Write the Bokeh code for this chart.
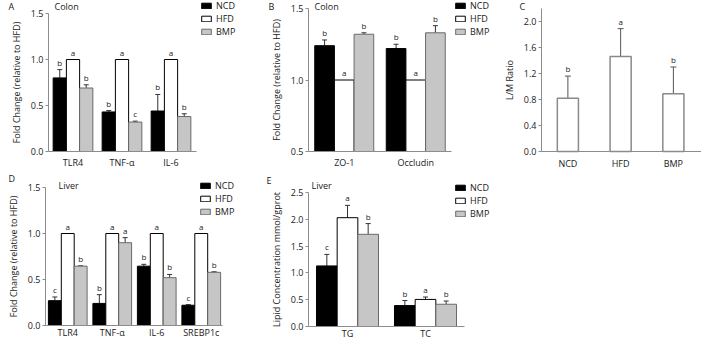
from bokeh.plotting import figure
from bokeh.models import (Range1d, Whisker, ColumnDataSource, Label, Legend,
                          LegendItem, TeeHead, FixedTicker, PrintfTickFormatter)
from bokeh.transform import dodge
from bokeh.layouts import row, column
from bokeh.core.properties import value
from bokeh.embed import file_html
from bokeh.resources import INLINE

FONT = "Open Sans"
GROUPS = ["NCD", "HFD", "BMP"]

# ---- Panel A: Colon, fold change ----
a_cats = ["TLR4", "TNF-α", "IL-6"]
a_ncd = [0.80, 0.43, 0.44]
a_ncd_err = [0.09, 0.015, 0.18]
a_hfd = [1.0, 1.0, 1.0]
a_hfd_err = [0.0, 0.0, 0.0]
a_bmp = [0.69, 0.32, 0.38]
a_bmp_err = [0.035, 0.01, 0.03]
a_let_ncd = ["b", "b", "b"]
a_let_hfd = ["a", "a", "a"]
a_let_bmp = ["b", "c", "b"]
a_ticks = [0.0, 0.5, 1.0, 1.5]

# ---- Panel B: Colon, tight junctions ----
b_cats = ["ZO-1", "Occludin"]
b_ncd = [1.24, 1.22]
b_ncd_err = [0.04, 0.03]
b_hfd = [1.0, 1.0]
b_hfd_err = [0.0, 0.0]
b_bmp = [1.32, 1.33]
b_bmp_err = [0.01, 0.05]
b_let_ncd = ["b", "b"]
b_let_hfd = ["a", "a"]
b_let_bmp = ["b", "b"]
b_ticks = [0.5, 1.0, 1.5]

# ---- Panel C: L/M ratio ----
c_cats = ["NCD", "HFD", "BMP"]
c_vals = [0.82, 1.46, 0.89]
c_err = [0.34, 0.43, 0.41]
c_let = ["b", "a", "b"]
c_ticks = [0.0, 0.4, 0.8, 1.2, 1.6, 2.0]

# ---- Panel D: Liver, fold change ----
d_cats = ["TLR4", "TNF-α", "IL-6", "SREBP1c"]
d_ncd = [0.27, 0.24, 0.645, 0.22]
d_ncd_err = [0.04, 0.095, 0.02, 0.007]
d_hfd = [1.0, 1.0, 1.0, 1.0]
d_hfd_err = [0.0, 0.0, 0.0, 0.0]
d_bmp = [0.645, 0.90, 0.52, 0.578]
d_bmp_err = [0.004, 0.055, 0.035, 0.006]
d_let_ncd = ["c", "b", "b", "c"]
d_let_hfd = ["a", "a", "a", "a"]
d_let_bmp = ["b", "a", "b", "b"]
d_ticks = [0.0, 0.5, 1.0, 1.5]

# ---- Panel E: Liver lipids ----
e_cats = ["TG", "TC"]
e_ncd = [1.13, 0.39]
e_ncd_err = [0.215, 0.095]
e_hfd = [2.03, 0.505]
e_hfd_err = [0.23, 0.045]
e_bmp = [1.72, 0.415]
e_bmp_err = [0.20, 0.06]
e_let_ncd = ["c", "b"]
e_let_hfd = ["a", "a"]
e_let_bmp = ["b", "b"]
e_ticks = [0.0, 0.5, 1.0, 1.5, 2.0, 2.5]

BLACK = "#000000"
GRAY = "#c6c6c6"
GRAY_LINE = "#6a6a6a"
AXC = "#8c8c8c"
TXT = "#1a1a1a"
ERR = "#333333"


def make_fig(W, H, L, axis_end, U, T, B, ymin, ytop, ticks, cats, ylabel,
             xstand=3, ylab_stand=5):
    """Frame fills the whole figure; axes are placed with fixed_location/bounds."""
    k = (ytop - ymin) / (B - T)
    xr = Range1d(-0.5 - L / U, -0.5 + (W - L) / U)
    yr = Range1d(ymin - (H - B) * k, ytop + T * k)
    p = figure(width=W, height=H, x_range=xr, y_range=yr,
               output_backend="svg", toolbar_location=None,
               min_border=0, min_border_left=0, min_border_right=0,
               min_border_top=0, min_border_bottom=0)
    p.title.visible = False
    p.outline_line_color = None
    p.xgrid.visible = False
    p.ygrid.visible = False
    p.background_fill_color = "white"
    p.border_fill_color = "white"
    for ax in (p.xaxis, p.yaxis):
        ax.axis_line_color = AXC
        ax.major_label_text_font = FONT
        ax.major_label_text_font_size = "9px"
        ax.major_label_text_color = TXT
        ax.minor_tick_line_color = None
        ax.minor_tick_in = 0
        ax.minor_tick_out = 0
        ax.axis_label_text_font = FONT
        ax.axis_label_text_font_size = "9px"
        ax.axis_label_text_font_style = "normal"
        ax.axis_label_text_color = TXT
    xax = p.xaxis[0]
    yax = p.yaxis[0]
    xax.fixed_location = ymin
    xax.bounds = (-0.5, -0.5 + (axis_end - L) / U)
    xax.ticker = FixedTicker(ticks=list(range(len(cats))))
    xax.major_label_overrides = {i: c for i, c in enumerate(cats)}
    xax.major_tick_line_color = None
    xax.major_tick_in = 0
    xax.major_tick_out = 0
    xax.major_label_standoff = xstand
    yax.fixed_location = -0.5
    yax.bounds = (ymin, ytop)
    yax.ticker = FixedTicker(ticks=ticks)
    yax.formatter = PrintfTickFormatter(format="%.1f")
    yax.major_tick_in = 0
    yax.major_tick_out = 3
    yax.major_tick_line_color = AXC
    yax.major_label_standoff = 2
    yax.axis_label = ylabel
    yax.axis_label_standoff = ylab_stand
    return p


def add_label(p, x, ytop, text, size="9px"):
    p.add_layout(Label(x=x, y=p.height - ytop, x_units="screen", y_units="screen",
                       text=text, text_font=FONT, text_font_size=size,
                       text_color=TXT, text_baseline="middle", text_align="left"))


def add_bars(p, cats, ymin, series, bw, lower_for=(), letter_size="8px"):
    offs = [-bw, 0.0, bw]
    rends = []
    for i, (vals, errs, lets, fill, line) in enumerate(series):
        src = ColumnDataSource(dict(
            xi=list(range(len(cats))), v=vals,
            up=[v + e for v, e in zip(vals, errs)],
            lo=[v - e if i in lower_for else v for v, e in zip(vals, errs)],
            let=lets))
        xs = dodge("xi", offs[i])
        r = p.vbar(x=xs, top="v", bottom=ymin, width=bw, source=src,
                   fill_color=fill, line_color=line, line_width=1)
        rends.append(r)
        if any(e > 0 for e in errs):
            p.add_layout(Whisker(source=src, base=xs, upper="up", lower="lo",
                                 line_color=ERR, line_width=1,
                                 upper_head=TeeHead(size=5, line_color=ERR, line_width=1),
                                 lower_head=(TeeHead(size=5, line_color=ERR, line_width=1)
                                             if i in lower_for else None)))
        p.text(x=xs, y="up", text="let", source=src, text_font=value(FONT),
               text_font_size=letter_size, text_color=TXT, text_align="center",
               text_baseline="bottom", y_offset=-2)
    return rends


def add_legend(p, rends, x, bottom):
    # location = bottom-left corner of the legend, measured from the frame bottom
    lg = Legend(items=[LegendItem(label=g, renderers=[r]) for g, r in zip(GROUPS, rends)],
                location=(x, p.height - bottom), orientation="vertical",
                glyph_width=12, glyph_height=7, label_height=11,
                label_text_font=FONT, label_text_font_size="9px", label_text_color=TXT,
                label_standoff=4, padding=0, margin=0, spacing=-1,
                border_line_color=None, background_fill_alpha=0)
    p.add_layout(lg)


# ---------- A ----------
pA = make_fig(242, 170, 48, 196, 49, 13, 151, 0, 1.5, a_ticks, a_cats,
              "Fold Change (relative to HFD)", xstand=4)
rA = add_bars(pA, a_cats, 0, [
    (a_ncd, a_ncd_err, a_let_ncd, BLACK, BLACK),
    (a_hfd, a_hfd_err, a_let_hfd, "white", BLACK),
    (a_bmp, a_bmp_err, a_let_bmp, GRAY, GRAY_LINE)], 0.27)
add_legend(pA, rA, 200, 37.5)
add_label(pA, 8, 6, "A")
add_label(pA, 54, 6, "Colon")

# ---------- B ----------
pB = make_fig(254, 170, 66, 209, 71.5, 8, 151, 0.5, 1.5, b_ticks, b_cats,
              "Fold Change (relative to HFD)", xstand=4)
rB = add_bars(pB, b_cats, 0.5, [
    (b_ncd, b_ncd_err, b_let_ncd, BLACK, BLACK),
    (b_hfd, b_hfd_err, b_let_hfd, "white", BLACK),
    (b_bmp, b_bmp_err, b_let_bmp, GRAY, GRAY_LINE)], 0.275)
add_legend(pB, rB, 212, 37.5)
add_label(pB, 26, 6, "B")
add_label(pB, 72, 6, "Colon")

# ---------- C ----------
pC = make_fig(205, 170, 45, 205, 52.75, 8, 151, 0, 2.2, c_ticks, c_cats, "L/M Ratio",
              xstand=5)
srcC = ColumnDataSource(dict(xi=list(range(len(c_cats))), v=c_vals,
                             up=[v + e for v, e in zip(c_vals, c_err)],
                             lo=[v - e for v, e in zip(c_vals, c_err)], let=c_let))
pC.vbar(x="xi", top="v", bottom=0, width=0.4, source=srcC, fill_color="white",
        line_color="#8a8a8a", line_width=1.5)
pC.add_layout(Whisker(source=srcC, base="xi", upper="up", lower="lo",
                      line_color="#555555", line_width=1,
                      upper_head=TeeHead(size=6, line_color="#555555", line_width=1),
                      lower_head=TeeHead(size=6, line_color="#555555", line_width=1)))
pC.text(x="xi", y="up", text="let", source=srcC, text_font=value(FONT),
        text_font_size="8px", text_color=TXT, text_align="center",
        text_baseline="bottom", y_offset=-2)
add_label(pC, 23, 6, "C")

# ---------- D ----------
pD = make_fig(258, 170, 45, 222, 44.5, 17, 155, 0, 1.5, d_ticks, d_cats,
              "Fold Change (relative to HFD)", xstand=0)
rD = add_bars(pD, d_cats, 0, [
    (d_ncd, d_ncd_err, d_let_ncd, BLACK, BLACK),
    (d_hfd, d_hfd_err, d_let_hfd, "white", BLACK),
    (d_bmp, d_bmp_err, d_let_bmp, GRAY, GRAY_LINE)], 0.29)
add_legend(pD, rD, 199, 48)
add_label(pD, 8, 8, "D")
add_label(pD, 58, 15, "Liver")

# ---------- E ----------
pE = make_fig(443, 170, 50, 206, 78, 22, 156, 0, 2.5, e_ticks, e_cats,
              "Lipid Concentration mmol/gprot", xstand=0)
rE = add_bars(pE, e_cats, 0, [
    (e_ncd, e_ncd_err, e_let_ncd, BLACK, BLACK),
    (e_hfd, e_hfd_err, e_let_hfd, "white", BLACK),
    (e_bmp, e_bmp_err, e_let_bmp, GRAY, GRAY_LINE)], 0.265, lower_for=(1,))
add_legend(pE, rE, 196, 50)
add_label(pE, 8, 10, "E")
add_label(pE, 53, 15, "Liver")

layout = column(row(pA, pB, pC), row(pD, pE))
open("out.html", "w").write(file_html(layout, INLINE))
